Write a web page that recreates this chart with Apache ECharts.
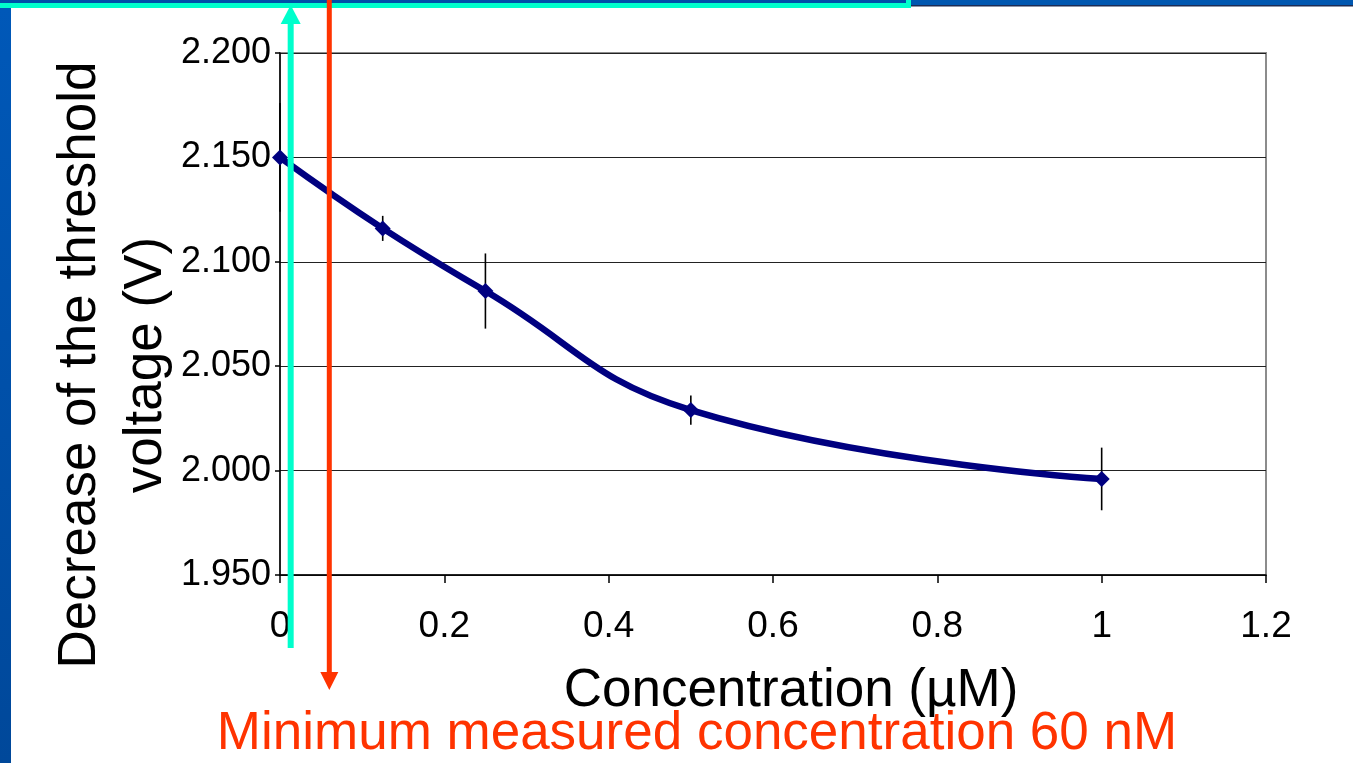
<!DOCTYPE html>
<html>
<head>
<meta charset="utf-8">
<script src="https://cdn.jsdelivr.net/npm/echarts@6/dist/echarts.min.js"></script>
<style>
  html, body { margin: 0; padding: 0; background: #ffffff; }
  #chart { width: 1353px; height: 763px; }
</style>
</head>
<body>
<div id="chart"></div>
<script>
// Threshold-voltage response versus analyte concentration
const concentration = [0, 0.125, 0.25, 0.5, 1];          // µM
const thresholdShift = [2.150, 2.116, 2.086, 2.029, 1.996]; // V
const errorHalf = [0.026, 0.006, 0.018, 0.007, 0.015];      // V, ± half-range

const yRange = [1.95, 2.2];
const yStep = 0.05;
const xRange = [0, 1.2];
const xStep = 0.2;

// Vertical guide arrows (µM)
const blankLevelX = 0.013;
const detectionLimitX = 0.06;

const yTitleLines = ['Decrease of the threshold', 'voltage (V)'];
const xTitle = 'Concentration (µM)';
const noteText = 'Minimum measured concentration 60 nM';

const FONT = '"Liberation Sans", Arial, sans-serif';

const chart = echarts.init(document.getElementById('chart'), null, { renderer: 'canvas' });

const pointData = concentration.map((c, i) => [c, thresholdShift[i]]);
const errorData = concentration.map((c, i) => [c, thresholdShift[i], errorHalf[i]]);

chart.setOption({
  animation: false,
  backgroundColor: '#ffffff',
  grid: {
    left: 280, right: 87, top: 53, bottom: 188,
    show: true, borderColor: '#8c8c8c', borderWidth: 2, backgroundColor: 'transparent'
  },
  xAxis: {
    type: 'value',
    min: xRange[0], max: xRange[1], interval: xStep,
    axisLine: { show: true, onZero: false, lineStyle: { color: '#000', width: 1.5 } },
    axisTick: { show: true, inside: false, length: 8, lineStyle: { color: '#000', width: 1.5 } },
    axisLabel: { color: '#000', fontFamily: FONT, fontSize: 37, margin: 33 },
    splitLine: { show: false }
  },
  yAxis: {
    type: 'value',
    min: yRange[0], max: yRange[1], interval: yStep,
    axisLine: { show: true, onZero: false, lineStyle: { color: '#000', width: 1.5 } },
    axisTick: { show: true, inside: false, length: 5, lineStyle: { color: '#000', width: 1.5 } },
    axisLabel: {
      color: '#000', fontFamily: FONT, fontSize: 36, margin: 9,
      padding: [7, 0, 0, 0],
      formatter: v => v.toFixed(3)
    },
    splitLine: { show: true, lineStyle: { color: '#222', width: 1 } }
  },
  series: [
    {
      type: 'custom',
      name: 'error',
      z: 2,
      clip: false,
      encode: { x: 0, y: 1 },
      data: errorData,
      renderItem: function (params, api) {
        const x = api.value(0), y = api.value(1), e = api.value(2);
        const top = api.coord([x, y + e]);
        const bot = api.coord([x, y - e]);
        return {
          type: 'line',
          shape: { x1: top[0], y1: top[1], x2: bot[0], y2: bot[1] },
          style: { stroke: '#000', lineWidth: 1.6 }
        };
      }
    },
    {
      type: 'line',
      name: 'Vth',
      z: 3,
      clip: false,
      data: pointData,
      smooth: 0.45,
      symbol: 'diamond',
      symbolSize: 16,
      showAllSymbol: true,
      lineStyle: { color: '#000080', width: 6.5 },
      itemStyle: { color: '#000080' }
    }
  ]
});

// Slide frame, guide arrows and titles
const xBlank = chart.convertToPixel({ xAxisIndex: 0 }, blankLevelX);
const xLimit = chart.convertToPixel({ xAxisIndex: 0 }, detectionLimitX);

const cyan = '#00ffcc';
const red = '#ff3300';

chart.setOption({
  graphic: [
    // frame
    { type: 'rect', shape: { x: 0, y: 0, width: 1353, height: 6 }, style: { fill: '#0057b0' }, z: 100 },
    { type: 'rect', shape: { x: 907, y: 5, width: 446, height: 1.5 }, style: { fill: '#1c2c55' }, z: 100 },
    { type: 'rect', shape: { x: 0, y: 0, width: 911, height: 8 }, style: { fill: cyan }, z: 101 },
    { type: 'rect', shape: { x: 0, y: 0, width: 906, height: 3 }, style: { fill: '#0050a8' }, z: 102 },
    {
      type: 'rect', shape: { x: 0, y: 8, width: 11, height: 755 }, z: 100,
      style: { fill: new echarts.graphic.LinearGradient(0, 0, 0, 1, [
        { offset: 0, color: '#0058b8' }, { offset: 1, color: '#00489a' }
      ]) }
    },
    // cyan guide arrow (pointing up)
    { type: 'line', shape: { x1: xBlank, y1: 648, x2: xBlank, y2: 20 }, style: { stroke: cyan, lineWidth: 6 }, z: 110 },
    { type: 'polygon', shape: { points: [[xBlank - 10, 24], [xBlank + 10, 24], [xBlank, 5]] }, style: { fill: cyan }, z: 110 },
    // red guide arrow (pointing down)
    { type: 'line', shape: { x1: xLimit, y1: 0, x2: xLimit, y2: 675 }, style: { stroke: red, lineWidth: 5 }, z: 110 },
    { type: 'polygon', shape: { points: [[xLimit - 9, 672], [xLimit + 9, 672], [xLimit, 690]] }, style: { fill: red }, z: 110 },
    // axis titles
    {
      type: 'text', x: 113, y: 365, rotation: Math.PI / 2, z: 120,
      style: {
        text: yTitleLines.join('\n'), font: '53px ' + FONT, fill: '#000',
        align: 'center', verticalAlign: 'middle', lineHeight: 66
      }
    },
    {
      type: 'text', x: 791, y: 691, z: 120,
      style: { text: xTitle, font: '53px ' + FONT, fill: '#000', align: 'center', verticalAlign: 'middle' }
    },
    {
      type: 'text', x: 697, y: 734, z: 120,
      style: { text: noteText, font: '53px ' + FONT, fill: red, align: 'center', verticalAlign: 'middle' }
    }
  ]
});
</script>
</body>
</html>
